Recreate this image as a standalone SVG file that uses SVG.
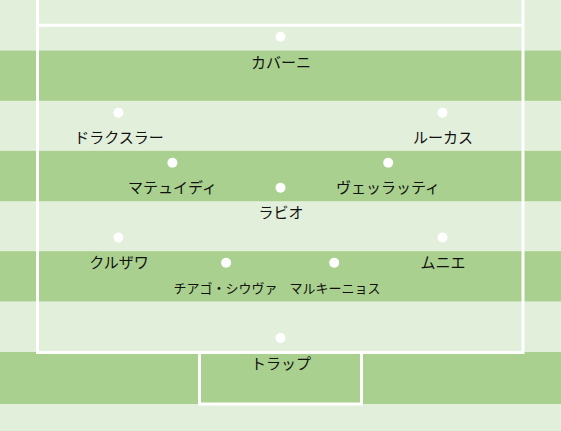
<svg xmlns="http://www.w3.org/2000/svg" width="561" height="431" viewBox="0 0 561 431">
<style>
.light{fill:#e2efda}
.dark{fill:#a9d08e}
.line{fill:none;stroke:#ffffff;stroke-width:3}
.dot{fill:#ffffff}
.lbl{font-family:"Noto Sans CJK JP","Noto Sans",sans-serif;font-size:15px;fill:#111111;text-anchor:middle}
.sm{font-size:13px}
</style>
<g id="pitch">
<rect class="light" x="0" y="0" width="561" height="431"/>
<rect class="dark" x="0" y="50.6" width="561" height="50.2"/>
<rect class="dark" x="0" y="150.9" width="561" height="50.3"/>
<rect class="dark" x="0" y="251.2" width="561" height="50.2"/>
<rect class="dark" x="0" y="352" width="561" height="52"/>
</g>
<g id="lines">
<path class="line" d="M37.5,0 V352.5 H523 V0"/>
<path class="line" d="M37.5,25.3 H523"/>
<path class="line" d="M199.5,352.5 V404 H361.5 V352.5"/>
</g>
<g id="cavani"><circle class="dot" cx="280.5" cy="36.7" r="5"/><text class="lbl" x="281" y="68">カバーニ</text></g>
<g id="draxler"><circle class="dot" cx="118.4" cy="112.7" r="5"/><text class="lbl" x="119" y="143">ドラクスラー</text></g>
<g id="lucas"><circle class="dot" cx="442.5" cy="112.7" r="5"/><text class="lbl" x="443" y="143">ルーカス</text></g>
<g id="matuidi"><circle class="dot" cx="172.4" cy="162.7" r="5"/><text class="lbl" x="172.5" y="193">マテュイディ</text></g>
<g id="verratti"><circle class="dot" cx="388.2" cy="162.7" r="5"/><text class="lbl" x="388" y="193">ヴェッラッティ</text></g>
<g id="rabiot"><circle class="dot" cx="280.5" cy="187.8" r="5"/><text class="lbl" x="281" y="218">ラビオ</text></g>
<g id="kurzawa"><circle class="dot" cx="118.4" cy="237.5" r="5"/><text class="lbl" x="119" y="268">クルザワ</text></g>
<g id="meunier"><circle class="dot" cx="442.5" cy="237.5" r="5"/><text class="lbl" x="443" y="268">ムニエ</text></g>
<g id="thiagosilva"><circle class="dot" cx="226.1" cy="262.7" r="5"/><text class="lbl sm" x="225.5" y="293">チアゴ・シウヴァ</text></g>
<g id="marquinhos"><circle class="dot" cx="334.2" cy="262.7" r="5"/><text class="lbl sm" x="335" y="293">マルキーニョス</text></g>
<g id="trapp"><circle class="dot" cx="280.5" cy="338" r="5"/><text class="lbl" x="281" y="369">トラップ</text></g>
</svg>
